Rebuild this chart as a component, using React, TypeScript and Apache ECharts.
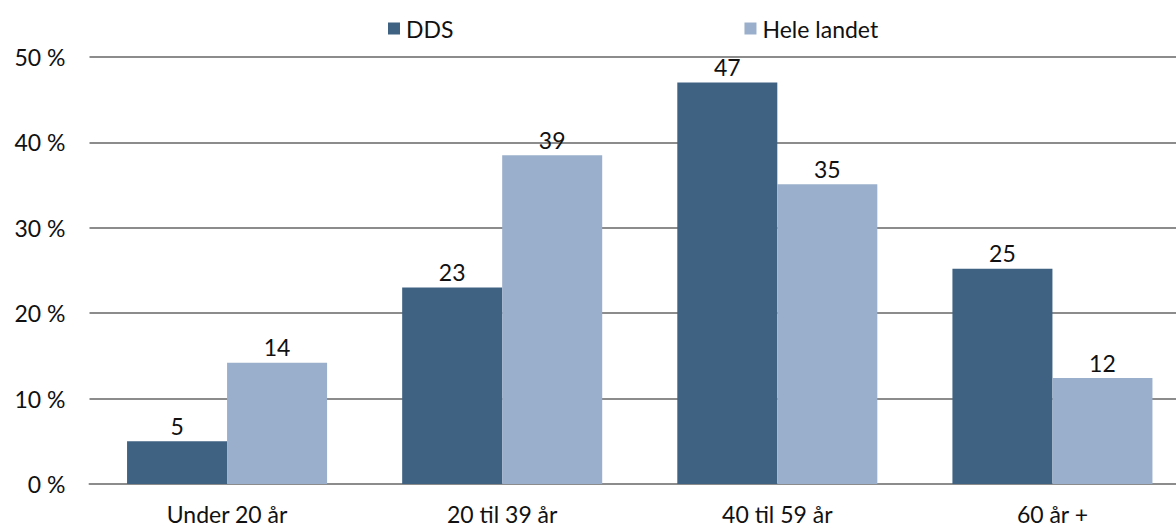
import React, { useEffect, useRef } from "react";
import * as echarts from "echarts";

const categories = ["Under 20 år", "20 til 39 år", "40 til 59 år", "60 år +"];
const ddsValues = [5.0, 23.0, 47.0, 25.2];
const heleValues = [14.2, 38.5, 35.1, 12.4];
const seriesNames = ["DDS", "Hele landet"];
const FONT = "Lato, 'Open Sans', sans-serif";

export default function App() {
  const ref = useRef<HTMLDivElement>(null);
  useEffect(() => {
    document.body.style.margin = "0";
    const chart = echarts.init(ref.current!, null, { renderer: "svg" });
    const label = {
      show: true,
      position: "top" as const,
      distance: 4,
      color: "#111",
      fontSize: 23,
      fontFamily: FONT,
      formatter: (p: any) => String(Math.round(p.value)),
    };
    chart.setOption({
      animation: false,
      backgroundColor: "#fff",
      textStyle: { fontFamily: FONT },
      legend: {
        left: 383,
        top: 12,
        itemWidth: 12,
        itemHeight: 12,
        itemGap: 291,
        icon: "rect",
        textStyle: { fontSize: 23, color: "#111", fontFamily: FONT, padding: [0, 0, 0, 1] },
        data: seriesNames,
      },
      grid: { left: 89.5, right: 0, top: 57, bottom: 43, containLabel: false },
      xAxis: {
        type: "category",
        data: categories,
        axisTick: { show: false },
        axisLine: { lineStyle: { color: "#8c8c8c", width: 2 } },
        axisLabel: { fontSize: 23, color: "#111", margin: 18, fontFamily: FONT },
      },
      yAxis: {
        type: "value",
        min: 0,
        max: 50,
        interval: 10,
        axisLine: { show: false },
        axisTick: { show: false },
        splitLine: { lineStyle: { color: "#8c8c8c", width: 2 } },
        axisLabel: {
          fontSize: 23,
          color: "#111",
          margin: 24,
          fontFamily: FONT,
          formatter: (v: number) => `${v} %`,
        },
      },
      series: [
        {
          name: seriesNames[0],
          type: "bar",
          data: ddsValues,
          itemStyle: { color: "#3F6283" },
          barGap: "0%",
          barCategoryGap: "27.3%",
          label,
        },
        {
          name: seriesNames[1],
          type: "bar",
          data: heleValues,
          itemStyle: { color: "#9AAFCB" },
          barGap: "0%",
          barCategoryGap: "27.3%",
          label,
        },
      ],
    });
    return () => chart.dispose();
  }, []);
  return (
    <div style={{ width: 1176, height: 527, overflow: "hidden", position: "relative" }}>
      <div ref={ref} style={{ width: 1190, height: 527 }} />
    </div>
  );
}
